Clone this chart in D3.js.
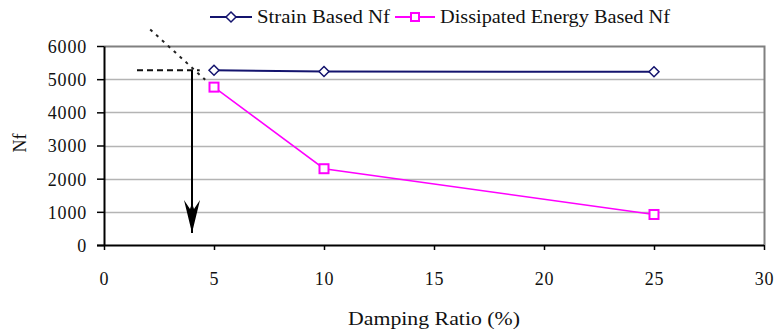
<!DOCTYPE html>
<html>
<head>
<meta charset="utf-8">
<script src="https://cdn.jsdelivr.net/npm/d3@7"></script>
<style>
  html, body { margin: 0; padding: 0; background: #fff; }
  svg { display: block; }
  text { font-family: "Liberation Serif", "Times New Roman", serif; fill: #111; }
</style>
</head>
<body>
<svg id="chart" width="774" height="333"></svg>
<script>
// Fatigue life (Nf) versus damping ratio
const dampingRatio = [5, 10, 25];
const strainNf = [5270, 5230, 5225];
const energyNf = [4760, 2300, 920];
const xTicks = [0, 5, 10, 15, 20, 25, 30];
const yTicks = [0, 1000, 2000, 3000, 4000, 5000, 6000];
const seriesNames = ["Strain Based Nf", "Dissipated Energy Based Nf"];

// Construction lines reading off the target damping ratio
const guideDashed = [[1.5, 5270], [4.35, 5270]];
const guideDiagonal = [[2.1, 6500], [4.6, 4980]];
const guideArrow = [[4, 5270], [4, 360]];

const svg = d3.select("#chart");
const plotLeft = 104, plotRight = 764, plotTop = 46, plotBottom = 245;

const x = d3.scaleLinear().domain([0, 30]).range([plotLeft, plotRight]);
const y = d3.scaleLinear().domain([0, 6000]).range([plotBottom, plotTop]);

// Horizontal gridlines
svg.append("g")
  .selectAll("line")
  .data(yTicks.filter(v => v > 0 && v < 6000))
  .join("line")
  .attr("x1", plotLeft).attr("x2", plotRight)
  .attr("y1", d => Math.round(y(d)) + 0.5).attr("y2", d => Math.round(y(d)) + 0.5)
  .attr("stroke", "#b4b4b4").attr("stroke-width", 1.5);

// Plot frame (top and right)
svg.append("path")
  .attr("d", `M${plotLeft},${plotTop + 0.5}H${plotRight + 0.5}V${plotBottom}`)
  .attr("fill", "none").attr("stroke", "#808080").attr("stroke-width", 2);

// Axes
const fmt = d3.format("d");
const xAxis = d3.axisBottom(x).tickValues(xTicks).tickFormat(fmt)
  .tickSize(5).tickSizeOuter(0).tickPadding(22);
const yAxis = d3.axisLeft(y).tickValues(yTicks).tickFormat(fmt)
  .tickSize(7).tickSizeOuter(0).tickPadding(10);

const gx = svg.append("g").attr("transform", `translate(0,${plotBottom})`).call(xAxis);
const gy = svg.append("g").attr("transform", `translate(${plotLeft},0)`).call(yAxis);

[gx, gy].forEach(g => {
  g.select(".domain").attr("stroke", "#000").attr("stroke-width", 2);
  g.selectAll(".tick line").attr("stroke", "#000").attr("stroke-width", 1.5);
  g.selectAll(".tick text")
    .style("font-family", '"Liberation Serif", serif')
    .style("letter-spacing", "0.8px")
    .attr("font-size", 18).attr("fill", "#111");
});
gx.select(".domain").attr("d", `M${plotLeft - 7},0.5H${plotRight}`);
gy.selectAll(".tick text").attr("dy", "0.36em");

// Axis titles
svg.append("text")
  .attr("x", 434).attr("y", 325)
  .attr("text-anchor", "middle").attr("font-size", 18)
  .attr("textLength", 172).attr("lengthAdjust", "spacingAndGlyphs")
  .text("Damping Ratio (%)");
svg.append("text")
  .attr("transform", "translate(26,143) rotate(-90)")
  .attr("text-anchor", "middle").attr("font-size", 18)
  .text("Nf");

// Guide lines
const guideLine = d3.line().x(d => x(d[0])).y(d => y(d[1]));
svg.append("path").attr("d", guideLine(guideDashed))
  .attr("fill", "none").attr("stroke", "#111").attr("stroke-width", 2)
  .attr("stroke-dasharray", "6,4");
svg.append("path").attr("d", guideLine(guideDiagonal))
  .attr("fill", "none").attr("stroke", "#222").attr("stroke-width", 2)
  .attr("stroke-dasharray", "3,5");
svg.append("path").attr("d", guideLine(guideArrow))
  .attr("fill", "none").attr("stroke", "#000").attr("stroke-width", 2);
const tip = guideArrow[1];
const tx = x(tip[0]), ty = y(tip[1]);
svg.append("path")
  .attr("d", `M${tx},${ty} L${tx - 8},${ty - 33} L${tx - 2},${ty - 24} L${tx},${ty - 30} L${tx + 2},${ty - 24} L${tx + 8},${ty - 33} Z`)
  .attr("fill", "#000");

// Series lines and markers
const pts = vals => dampingRatio.map((d, i) => [d, vals[i]]);
const line = d3.line().x(d => x(d[0])).y(d => y(d[1]));
const navy = "#14146e", pink = "#ff00ff";

svg.append("path").attr("d", line(pts(energyNf)))
  .attr("fill", "none").attr("stroke", pink).attr("stroke-width", 1.5);
svg.append("path").attr("d", line(pts(strainNf)))
  .attr("fill", "none").attr("stroke", navy).attr("stroke-width", 2);

const diamond = (cx, cy) => `M${cx},${cy - 5}L${cx + 5},${cy}L${cx},${cy + 5}L${cx - 5},${cy}Z`;

svg.append("g").selectAll("path")
  .data(pts(strainNf))
  .join("path")
  .attr("d", d => diamond(x(d[0]), y(d[1])))
  .attr("fill", "#fff").attr("stroke", navy).attr("stroke-width", 1.5);

svg.append("g").selectAll("rect")
  .data(pts(energyNf))
  .join("rect")
  .attr("x", d => x(d[0]) - 4.5).attr("y", d => y(d[1]) - 4.5)
  .attr("width", 9).attr("height", 9)
  .attr("fill", "#fff").attr("stroke", pink).attr("stroke-width", 2);

// Legend
const legendY = 17;
const legend = svg.append("g");
legend.append("line").attr("x1", 210).attr("x2", 252).attr("y1", legendY).attr("y2", legendY)
  .attr("stroke", navy).attr("stroke-width", 2);
legend.append("path").attr("d", diamond(231, legendY)).attr("fill", "#fff")
  .attr("stroke", navy).attr("stroke-width", 1.5);
legend.append("text").attr("x", 257).attr("y", legendY + 6).attr("font-size", 18)
  .attr("textLength", 133).attr("lengthAdjust", "spacingAndGlyphs")
  .text(seriesNames[0]);
legend.append("line").attr("x1", 395).attr("x2", 435).attr("y1", legendY).attr("y2", legendY)
  .attr("stroke", pink).attr("stroke-width", 2);
legend.append("rect").attr("x", 411).attr("y", legendY - 4).attr("width", 8).attr("height", 8)
  .attr("fill", "#fff").attr("stroke", pink).attr("stroke-width", 2);
legend.append("text").attr("x", 440).attr("y", legendY + 6).attr("font-size", 18)
  .attr("textLength", 230).attr("lengthAdjust", "spacingAndGlyphs")
  .text(seriesNames[1]);
</script>
</body>
</html>
